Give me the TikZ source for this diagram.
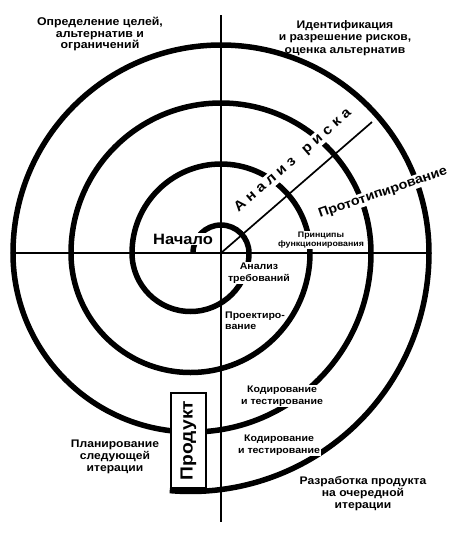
\documentclass[tikz,border=0pt]{standalone}
\usepackage{fontspec}
\setmainfont{Liberation Sans}[FakeStretch=1.1]
\begin{document}
\begin{tikzpicture}[x=1pt,y=-1pt,
  spiral/.style={line width=5.5pt},
  axis/.style={line width=1.7pt},
  biglbl/.style={align=center, inner sep=1pt},
  smalllbl/.style={font=\bfseries\fontsize{9.6}{11.5}\selectfont, align=center, fill=white, inner sep=1pt},
]
\useasboundingbox (0,0) rectangle (449,533);
\coordinate (U) at (221,253);
\coordinate (Vt) at (221,15);
\coordinate (Vb) at (221,522);
\coordinate (Hl) at (13,253);
\coordinate (Hr) at (428,253);
\coordinate (D) at (372,122);
\coordinate (S) at (193,253);

% spiral
\draw[spiral] (S) arc[start angle=180,end angle=360,radius=28]
  arc[start angle=0,end angle=180,radius=58.5]
  arc[start angle=180,end angle=360,radius=89]
  arc[start angle=0,end angle=180,radius=119.5]
  arc[start angle=180,end angle=360,radius=150]
  arc[start angle=0,end angle=180,radius=179]
  arc[start angle=180,end angle=360,radius=208]
  arc[start angle=0,end angle=95,radius=238.5];

% labels on the spiral
\node[fill=white, inner sep=1pt, font=\bfseries\fontsize{15}{15}\selectfont] (start) at (183,239) {Начало};
\node[smalllbl, font=\bfseries\fontsize{8}{9.5}\selectfont] (princ) at (321,240) {Принципы\\функционирования};
\node[smalllbl] (areq) at (259,273) {Анализ\\требований};
\node[smalllbl, fill=none, anchor=west, align=left, font=\bfseries\fontsize{9.6}{11}\selectfont] (design) at (224,321) {Проектиро-\\вание};
\node[smalllbl] (code1) at (282,396) {Кодирование\\и тестирование};
\node[smalllbl] (code2) at (279,445) {Кодирование\\и тестирование};
\node[fill=white, inner sep=1pt, rotate=19, font=\bfseries\fontsize{13}{13}\selectfont] (proto) at (383,193) {Прототипирование};
\node[fill=white, inner sep=1pt, rotate=41, font=\bfseries\fontsize{14}{14}\selectfont] (risk) at (293,161)
  {А\kern4.2pt н\kern4.2pt а\kern4.2pt л\kern4.2pt и\kern4.2pt з\kern4.2pt\ \kern4.2pt р\kern4.2pt и\kern4.2pt с\kern4.2pt к\kern4.2pt а};
\node[draw, fill=white, line width=1.2pt, rotate=90, minimum width=95pt, minimum height=35pt, inner sep=0pt,
  font=\bfseries\fontsize{17.5}{17.5}\selectfont] (prod) at (188.5,440.5) {Продукт};

% axes
\draw[axis] (Vt) -- (Vb);
\draw[axis] (Hl) -- (Hr);
\draw[axis] (U) -- (D);

% quadrant labels
\node[biglbl, font=\bfseries\fontsize{11.2}{11.2}\selectfont] (q1) at (100,34) {Определение целей,\\альтернатив и\\ограничений};
\node[biglbl, font=\bfseries\fontsize{11}{12.8}\selectfont] (q2) at (345,38) {Идентификация\\и разрешение рисков,\\оценка альтернатив};
\node[biglbl, font=\bfseries\fontsize{11}{12.2}\selectfont] (q3) at (115,457) {Планирование\\следующей\\итерации};
\node[biglbl, font=\bfseries\fontsize{11}{12}\selectfont] (q4) at (363,494) {Разработка продукта\\на очередной\\итерации};
\end{tikzpicture}
\end{document}
